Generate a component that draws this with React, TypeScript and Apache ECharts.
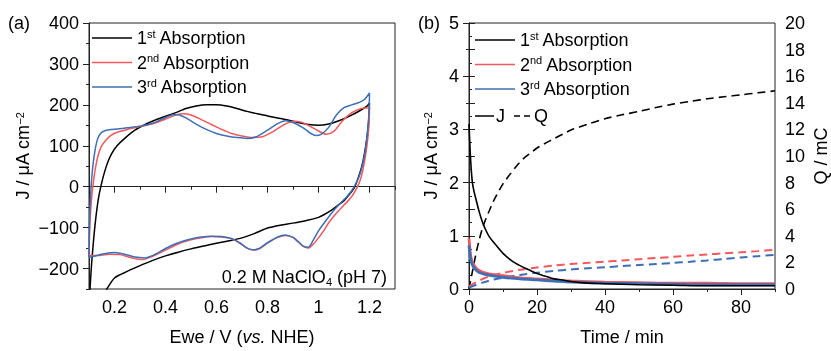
import React, { useEffect, useRef } from "react";
import * as echarts from "echarts";

const FONT = "Liberation Sans, Arial, sans-serif";
const legendNames = ["1st Absorption", "2nd Absorption", "3rd Absorption"];
const qNames = ["1st Absorption Q", "2nd Absorption Q", "3rd Absorption Q"];
const colors = ["#000000", "#F2585C", "#3D6FB6"];

const xTicksA = [0.2, 0.4, 0.6, 0.8, 1.0, 1.2];
const yTicksA = [-200, -100, 0, 100, 200, 300, 400];
const xTicksB = [0, 20, 40, 60, 80];

// (a) cyclic voltammograms: [E (V vs NHE), J (uA cm-2)]
const cv1 = [
  [0.1, -300], [0.104, -250], [0.11, -190], [0.118, -130], [0.127, -75], [0.138, -25], [0.15, 10],
  [0.162, 38], [0.175, 62], [0.19, 82], [0.21, 100], [0.24, 118], [0.28, 138], [0.32, 152],
  [0.36, 163], [0.4, 172], [0.44, 181], [0.48, 191], [0.52, 197], [0.56, 200], [0.6, 200],
  [0.64, 197], [0.68, 191], [0.72, 184], [0.76, 178], [0.8, 173], [0.84, 168], [0.88, 163],
  [0.92, 157], [0.96, 152], [1.0, 150], [1.04, 153], [1.08, 161], [1.12, 172], [1.16, 185],
  [1.19, 197], [1.2, 205],
  [1.198, 170], [1.19, 120], [1.18, 80], [1.17, 50], [1.155, 20], [1.14, -3], [1.12, -20],
  [1.1, -34], [1.075, -46], [1.05, -58], [1.0, -75], [0.95, -83], [0.9, -89], [0.85, -94],
  [0.8, -101], [0.75, -114], [0.7, -125], [0.65, -132], [0.6, -138], [0.55, -145], [0.5, -152],
  [0.45, -160], [0.4, -169], [0.35, -180], [0.3, -193], [0.25, -207], [0.2, -223], [0.17, -250],
  [0.14, -280],
];
const cv2 = [
  [0.1, -168], [0.102, -120], [0.105, -75], [0.11, -30], [0.117, 10], [0.125, 45], [0.135, 75],
  [0.148, 98], [0.165, 113], [0.185, 125], [0.21, 133], [0.25, 140], [0.3, 147], [0.35, 154],
  [0.4, 165], [0.44, 175], [0.47, 178], [0.5, 175], [0.54, 164], [0.58, 152], [0.62, 140],
  [0.66, 130], [0.7, 124], [0.74, 120], [0.78, 122], [0.82, 134], [0.86, 150], [0.9, 160],
  [0.93, 158], [0.96, 150], [1.0, 136], [1.03, 128], [1.06, 135], [1.09, 158], [1.12, 176],
  [1.15, 187], [1.18, 192], [1.2, 192],
  [1.198, 150], [1.19, 100], [1.18, 60], [1.17, 30], [1.16, 10], [1.14, -15], [1.12, -32],
  [1.1, -45], [1.07, -65], [1.04, -88], [1.02, -108], [1.0, -125], [0.98, -140], [0.96, -150],
  [0.94, -146], [0.92, -135], [0.9, -124], [0.87, -119], [0.84, -124], [0.8, -138], [0.77, -151],
  [0.745, -155], [0.72, -150], [0.69, -137], [0.66, -127], [0.62, -123], [0.58, -122],
  [0.54, -125], [0.5, -130], [0.45, -140], [0.4, -155], [0.35, -170], [0.31, -178], [0.27, -174],
  [0.22, -166], [0.18, -165], [0.14, -168], [0.1, -168],
];
const cv3 = [
  [0.1, -173], [0.101, -120], [0.103, -70], [0.106, -25], [0.11, 15], [0.116, 55], [0.124, 90],
  [0.133, 115], [0.145, 130], [0.16, 136], [0.18, 139], [0.21, 141], [0.25, 144], [0.3, 148],
  [0.35, 155], [0.39, 166], [0.43, 176], [0.45, 176], [0.48, 168], [0.52, 153], [0.56, 140],
  [0.6, 130], [0.64, 124], [0.68, 120], [0.72, 118], [0.76, 123], [0.8, 138], [0.84, 154],
  [0.87, 161], [0.9, 157], [0.94, 144], [0.97, 130], [0.99, 125], [1.01, 128], [1.04, 145],
  [1.07, 175], [1.1, 193], [1.13, 200], [1.16, 206], [1.18, 213], [1.2, 229],
  [1.198, 180], [1.19, 120], [1.18, 75], [1.165, 35], [1.15, 12], [1.13, -10], [1.11, -25],
  [1.09, -38], [1.06, -58], [1.03, -82], [1.0, -108], [0.98, -130], [0.96, -148], [0.94, -145],
  [0.92, -134], [0.9, -124], [0.87, -118], [0.84, -123], [0.8, -137], [0.77, -150], [0.745, -154],
  [0.72, -150], [0.69, -137], [0.66, -127], [0.62, -122], [0.58, -121], [0.54, -123], [0.5, -128],
  [0.45, -137], [0.4, -151], [0.36, -165], [0.32, -174], [0.28, -172], [0.24, -165], [0.2, -161],
  [0.16, -164], [0.12, -170], [0.1, -173],
];

// (b) chronoamperometry: [t (min), J (uA cm-2)]
const j1 = [
  [0, 3.1], [0.3, 2.65], [0.6, 2.3], [1, 2.0], [1.5, 1.83], [2, 1.7], [3, 1.45], [4, 1.25],
  [5, 1.1], [6, 0.98], [7.6, 0.85], [10, 0.67], [12.6, 0.53], [15, 0.44], [17.6, 0.36],
  [20, 0.29], [22.5, 0.24], [25, 0.19], [27.5, 0.17], [30, 0.14], [35, 0.11], [40, 0.1],
  [45, 0.09], [50, 0.08], [60, 0.07], [70, 0.06], [80, 0.06], [90, 0.06],
];
const j2 = [
  [0, 0.95], [0.2, 0.8], [0.5, 0.62], [1, 0.5], [2, 0.4], [3, 0.35], [5, 0.3], [7.5, 0.27],
  [10, 0.25], [15, 0.21], [20, 0.19], [25, 0.17], [30, 0.15], [40, 0.13], [50, 0.12],
  [60, 0.11], [70, 0.11], [80, 0.1], [90, 0.1],
];
const j3 = [
  [0, 0.82], [0.2, 0.7], [0.5, 0.55], [1, 0.45], [2, 0.36], [3, 0.31], [5, 0.27], [7.5, 0.24],
  [10, 0.22], [15, 0.19], [20, 0.17], [25, 0.15], [30, 0.13], [40, 0.11], [50, 0.1],
  [60, 0.09], [70, 0.08], [80, 0.08], [90, 0.08],
];
// (b) charge: [t (min), Q (mC)]
const q1 = [
  [0, 0], [1, 1.3], [2, 2.6], [3, 3.7], [4, 4.6], [5, 5.3], [6, 5.9], [7, 6.5], [8, 7.0],
  [10, 7.9], [12, 8.6], [14, 9.25], [16, 9.8], [18, 10.2], [20, 10.6], [22, 10.9], [25, 11.3],
  [28, 11.7], [30, 11.95], [35, 12.4], [40, 12.8], [45, 13.1], [50, 13.35], [55, 13.65],
  [60, 13.9], [65, 14.1], [70, 14.3], [75, 14.45], [80, 14.6], [85, 14.75], [90, 14.9],
];
const q2 = [
  [0, 0.2], [2, 0.5], [4, 0.75], [6, 0.95], [8, 1.1], [10, 1.22], [15, 1.45], [20, 1.62],
  [25, 1.76], [30, 1.88], [35, 1.97], [40, 2.06], [45, 2.14], [50, 2.24], [55, 2.33],
  [60, 2.42], [65, 2.52], [70, 2.6], [75, 2.68], [80, 2.76], [85, 2.85], [90, 2.95],
];
const q3 = [
  [0, 0.1], [2, 0.3], [4, 0.48], [6, 0.62], [8, 0.75], [10, 0.85], [15, 1.05], [20, 1.22],
  [25, 1.36], [30, 1.47], [35, 1.56], [40, 1.64], [45, 1.72], [50, 1.8], [55, 1.88],
  [60, 1.96], [65, 2.05], [70, 2.15], [75, 2.26], [80, 2.37], [85, 2.47], [90, 2.57],
];

const AXIS = "#222";
const supRich = { sup: { fontSize: 11, lineHeight: 10, verticalAlign: "top" as const, fontFamily: FONT } };

const legendFormatter = (name: string) => {
  const m = name.match(/^(\d)(st|nd|rd) (.*)$/);
  return m ? `${m[1]}{sup|${m[2]}} ${m[3]}` : name;
};

const minus = (v: number) => String(Math.round(v * 1000) / 1000).replace("-", "\u2212");

export default function App() {
  const ref = useRef<HTMLDivElement>(null);
  useEffect(() => {
    if (!ref.current) return;
    const chart = echarts.init(ref.current, undefined, { renderer: "svg" });
    const baseLegend = {
      data: legendNames,
      orient: "vertical" as const,
      icon: "rect",
      itemWidth: 40,
      itemHeight: 1.6,
      itemGap: 4.5,
      padding: 0,
      selectedMode: false,
      formatter: legendFormatter,
      textStyle: { fontSize: 18, fontFamily: FONT, color: "#000", lineHeight: 20, rich: supRich },
    };
    const hiddenAxis = {
      axisLabel: { show: false },
      splitLine: { show: false },
    };
    const cvSeries = [cv1, cv2, cv3].map((d, i) => ({
      name: legendNames[i],
      type: "line",
      xAxisIndex: 0,
      yAxisIndex: 0,
      data: d,
      symbol: "none",
      smooth: 0.25,
      lineStyle: { color: colors[i], width: 1.5 },
      itemStyle: { color: colors[i] },
    }));
    const qSeries = [q1, q2, q3].map((d, i) => ({
      name: qNames[i],
      type: "line",
      xAxisIndex: 2,
      yAxisIndex: 3,
      data: d,
      symbol: "none",
      smooth: 0.3,
      lineStyle: { color: colors[i], width: i === 0 ? 1.6 : 2, type: [8, 5] },
      itemStyle: { color: colors[i] },
    }));
    const jSeries = [j1, j2, j3].map((d, i) => ({
      name: legendNames[i],
      type: "line",
      xAxisIndex: 2,
      yAxisIndex: 2,
      data: d,
      symbol: "none",
      smooth: 0.3,
      lineStyle: { color: colors[i], width: i === 0 ? 1.6 : 2.8 },
      itemStyle: { color: colors[i] },
      z: i === 0 ? 6 : i === 2 ? 5 : 4,
    }));
    chart.setOption({
      animation: false,
      textStyle: { fontFamily: FONT, fontSize: 18, color: "#000" },
      grid: [
        { left: 89, top: 23, width: 306, height: 270, show: true, borderColor: AXIS, borderWidth: 1 },
        { left: 469, top: 23, width: 306, height: 270, show: true, borderColor: AXIS, borderWidth: 1 },
      ],
      legend: [
        { ...baseLegend, left: 92, top: 28 },
        { ...baseLegend, left: 475, top: 30 },
      ],
      xAxis: [
        {
          gridIndex: 0, type: "value", min: 0.1, max: 1.3, interval: 0.1, position: "bottom",
          axisLine: { show: true, lineStyle: { color: AXIS } },
          axisTick: { show: true, length: 3, lineStyle: { color: AXIS } },
          ...hiddenAxis,
        },
        {
          gridIndex: 0, type: "value", min: 0.1, max: 1.3, position: "bottom",
          axisLine: { show: false },
          axisTick: { show: true, length: 6, customValues: xTicksA, lineStyle: { color: AXIS } },
          axisLabel: { show: true, customValues: xTicksA, fontSize: 18, fontFamily: FONT, color: "#000", margin: 9, formatter: minus },
          splitLine: { show: false },
          name: "Ewe / V ({i|vs.} NHE)",
          nameLocation: "middle",
          nameGap: 39,
          nameTextStyle: { fontSize: 18, fontFamily: FONT, color: "#000", rich: { i: { fontStyle: "italic", fontSize: 18, fontFamily: FONT } } },
        },
        {
          gridIndex: 1, type: "value", min: 0, max: 90, interval: 10, position: "bottom",
          axisLine: { show: true, lineStyle: { color: AXIS } },
          axisTick: { show: true, length: 3, lineStyle: { color: AXIS } },
          ...hiddenAxis,
        },
        {
          gridIndex: 1, type: "value", min: 0, max: 90, position: "bottom",
          axisLine: { show: false },
          axisTick: { show: true, length: 6, customValues: xTicksB, lineStyle: { color: AXIS } },
          axisLabel: { show: true, customValues: xTicksB, fontSize: 18, fontFamily: FONT, color: "#000", margin: 9 },
          splitLine: { show: false },
          name: "Time / min",
          nameLocation: "middle",
          nameGap: 39,
          nameTextStyle: { fontSize: 18, fontFamily: FONT, color: "#000" },
        },
      ],
      yAxis: [
        {
          gridIndex: 0, type: "value", min: -250, max: 400, interval: 50, position: "left",
          axisLine: { show: true, lineStyle: { color: AXIS } },
          axisTick: { show: true, length: 3, lineStyle: { color: AXIS } },
          ...hiddenAxis,
        },
        {
          gridIndex: 0, type: "value", min: -250, max: 400, position: "left",
          axisLine: { show: false },
          axisTick: { show: true, length: 6, customValues: yTicksA, lineStyle: { color: AXIS } },
          axisLabel: { show: true, customValues: yTicksA, fontSize: 18, fontFamily: FONT, color: "#000", margin: 10, formatter: minus },
          splitLine: { show: false },
          name: "J / \u03bcA cm{sup|\u22122}",
          nameLocation: "middle",
          nameRotate: 90,
          nameGap: 57,
          nameTextStyle: { fontSize: 18, fontFamily: FONT, color: "#000", rich: supRich },
        },
        {
          gridIndex: 1, type: "value", min: 0, max: 5, interval: 1, position: "left",
          axisLine: { show: true, lineStyle: { color: AXIS } },
          axisTick: { show: true, length: 6, lineStyle: { color: AXIS } },
          minorTick: { show: true, splitNumber: 2, length: 3, lineStyle: { color: AXIS } },
          axisLabel: { show: true, fontSize: 18, fontFamily: FONT, color: "#000", margin: 10 },
          splitLine: { show: false },
          name: "J / \u03bcA cm{sup|\u22122}",
          nameLocation: "middle",
          nameRotate: 90,
          nameGap: 29,
          nameTextStyle: { fontSize: 18, fontFamily: FONT, color: "#000", rich: supRich },
        },
        {
          gridIndex: 1, type: "value", min: 0, max: 20, interval: 2, position: "right",
          axisLine: { show: true, lineStyle: { color: AXIS } },
          axisTick: { show: true, length: 6, lineStyle: { color: AXIS } },
          minorTick: { show: true, splitNumber: 2, length: 3, lineStyle: { color: AXIS } },
          axisLabel: { show: true, fontSize: 18, fontFamily: FONT, color: "#000", margin: 10 },
          splitLine: { show: false },
          name: "Q / mC",
          nameLocation: "middle",
          nameRotate: 90,
          nameGap: 37,
          nameTextStyle: { fontSize: 18, fontFamily: FONT, color: "#000" },
        },
      ],
      graphic: [
        { type: "text", left: 8, top: 14, style: { text: "(a)", fontSize: 18, fontFamily: FONT, fill: "#000" } },
        { type: "text", left: 418, top: 14, style: { text: "(b)", fontSize: 18, fontFamily: FONT, fill: "#000" } },
        {
          type: "text", x: 387, y: 277,
          style: {
            text: "0.2 M NaClO{sub|4} (pH 7)", fontSize: 18, fontFamily: FONT, fill: "#000",
            align: "right", verticalAlign: "middle", lineHeight: 20,
            rich: { sub: { fontSize: 11, lineHeight: 10, verticalAlign: "bottom", fontFamily: FONT } },
          },
        },
        { type: "line", shape: { x1: 475, y1: 116, x2: 494, y2: 116 }, style: { stroke: "#000", lineWidth: 1.5 } },
        { type: "text", x: 496, y: 116, style: { text: "J", fontSize: 18, fontFamily: FONT, fill: "#000", verticalAlign: "middle" } },
        { type: "line", shape: { x1: 514, y1: 116, x2: 532, y2: 116 }, style: { stroke: "#000", lineWidth: 1.5, lineDash: [6, 4] } },
        { type: "text", x: 534, y: 116, style: { text: "Q", fontSize: 18, fontFamily: FONT, fill: "#000", verticalAlign: "middle" } },
      ],
      series: [...cvSeries, ...qSeries, ...jSeries],
    });
    return () => chart.dispose();
  }, []);
  return <div ref={ref} style={{ position: "fixed", left: 0, top: 0, width: 831, height: 351 }} />;
}
